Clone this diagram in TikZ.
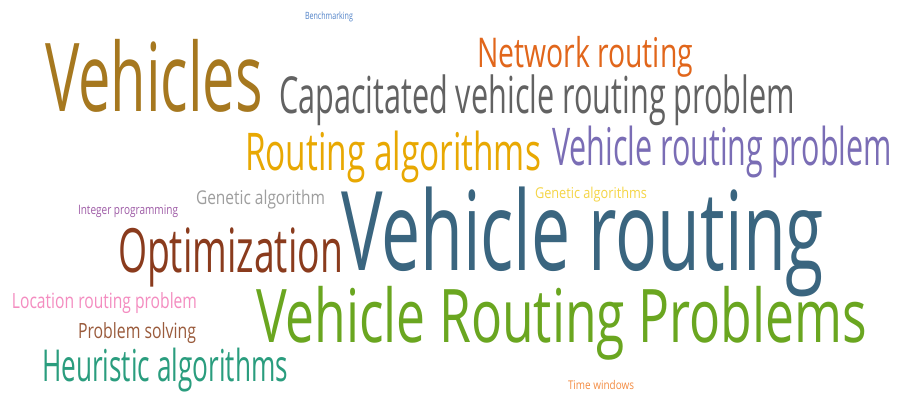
\documentclass[tikz,border=0pt]{standalone}
\usepackage{fontspec}
\setmainfont{Open Sans}
\usepackage{graphicx}
\usepackage{tikz}

\definecolor{benchblue}{RGB}{80,130,200}
\definecolor{vehbrown}{RGB}{166,120,31}
\definecolor{netorange}{RGB}{225,102,27}
\definecolor{capgray}{RGB}{98,98,98}
\definecolor{routgold}{RGB}{232,168,2}
\definecolor{vrppurple}{RGB}{122,109,181}
\definecolor{genagray}{RGB}{158,158,158}
\definecolor{genyellow}{RGB}{245,213,71}
\definecolor{intpurple}{RGB}{158,91,166}
\definecolor{vrblue}{RGB}{58,101,127}
\definecolor{optbrown}{RGB}{138,59,29}
\definecolor{locpink}{RGB}{244,140,192}
\definecolor{probbrown}{RGB}{154,91,60}
\definecolor{vrpgreen}{RGB}{106,166,32}
\definecolor{heurteal}{RGB}{42,157,126}
\definecolor{timeorange}{RGB}{244,140,66}

% width, font size, text
\newcommand{\fitw}[3]{\resizebox{#1pt}{\height}{\fontsize{#2pt}{#2pt}\selectfont #3}}

\tikzset{word/.style={anchor=base west, inner sep=0pt, outer sep=0pt}}

\begin{document}
\begin{tikzpicture}[x=1pt, y=-1pt]
\path[use as bounding box, fill=white] (0,0) rectangle (898,394);

\node[word, text=benchblue] (bench) at (305,19) {\fitw{48}{10}{Benchmarking}};
\node[word, text=vehbrown] (veh) at (45,111) {\fitw{218}{95}{Vehicles}};
\node[word, text=netorange] (net) at (477,67) {\fitw{216}{41}{Network routing}};
\node[word, text=capgray] (cap) at (279,113) {\fitw{516}{51}{Capacitated vehicle routing problem}};
\node[word, text=routgold] (rout) at (245,170) {\fitw{296}{52}{Routing algorithms}};
\node[word, text=vrppurple] (vrp) at (552,165) {\fitw{340}{52}{Vehicle routing problem}};
\node[word, text=genagray] (gena) at (196,204) {\fitw{129}{19}{Genetic algorithm}};
\node[word, text=genyellow] (gens) at (535,198) {\fitw{112}{15}{Genetic algorithms}};
\node[word, text=intpurple] (intp) at (78,214) {\fitw{100}{13}{Integer programming}};
\node[word, text=vrblue] (vr) at (341,270) {\fitw{483}{110}{Vehicle routing}};
\node[word, text=optbrown] (opt) at (118,272) {\fitw{225}{61}{Optimization}};
\node[word, text=locpink] (loc) at (12,308) {\fitw{185}{21}{Location routing problem}};
\node[word, text=probbrown] (prob) at (78,338) {\fitw{118}{21}{Problem solving}};
\node[word, text=vrpgreen] (vrps) at (256,342) {\fitw{611}{74}{Vehicle Routing Problems}};
\node[word, text=heurteal] (heur) at (42,381) {\fitw{246}{44}{Heuristic algorithms}};
\node[word, text=timeorange] (time) at (568,389) {\fitw{66}{12}{Time windows}};
\end{tikzpicture}
\end{document}
